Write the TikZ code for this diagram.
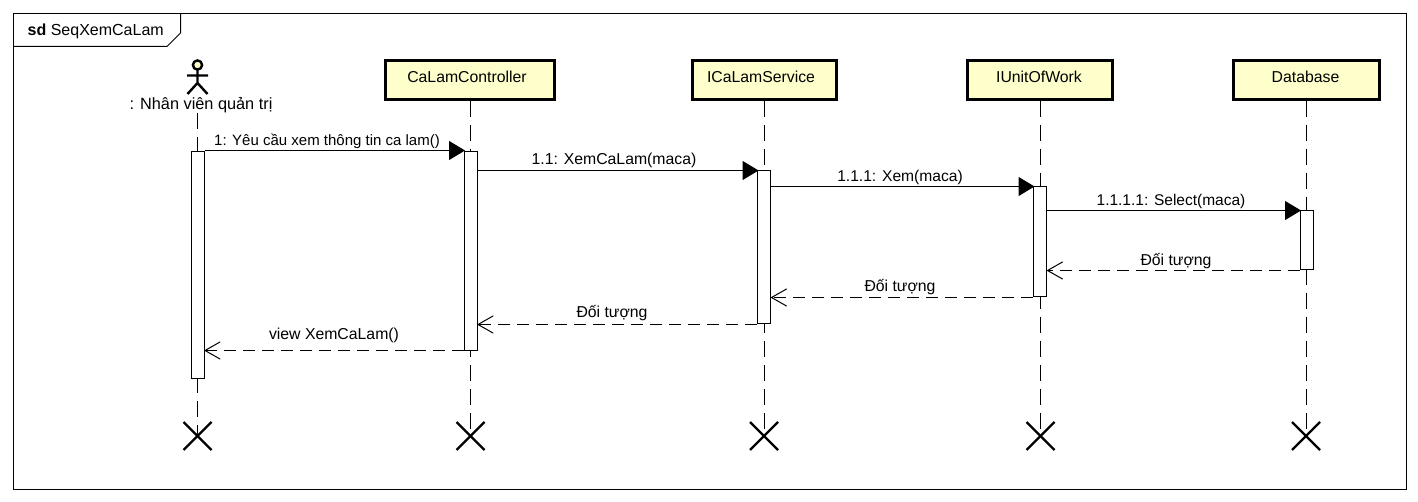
\documentclass[tikz,border=0pt]{standalone}
\usepackage{fontspec}
\setmainfont{Liberation Sans}
\usetikzlibrary{arrows.meta}
\definecolor{headfill}{HTML}{FFFFCC}
\tikzset{
  x=1pt,y=-1pt,
  head/.style={draw=black,line width=3pt,fill=headfill,minimum height=39pt,inner sep=0pt,text height=12pt,text depth=8pt,font=\fontsize{15.8}{17}\selectfont},
  act/.style={draw=black,line width=1pt,fill=white,minimum width=13pt,inner sep=0pt},
  life/.style={draw=black,line width=1pt,dash pattern=on 16pt off 8pt},
  msg/.style={draw=black,line width=1pt,shorten >=-1.5pt,-{Triangle[length=16pt,width=19pt,fill=black]}},
  ret/.style={draw=black,line width=1pt,dash pattern=on 12pt off 7pt,-{Straight Barb[length=15pt,width=17pt,line width=1pt,round]}},
  lbl/.style={font=\fontsize{15.8}{17}\selectfont,inner sep=0pt,anchor=base},
  kill/.style={draw=black,line width=2.4pt},
  frame/.style={draw=black,line width=1pt}
}
\newcommand{\actbox}[4]{\node[act,minimum height=#4pt] (#1) at (#2,#3+#4/2) {};}
\begin{document}
\begin{tikzpicture}
\useasboundingbox (0,0) rectangle (1418,502);
\fill[white] (0,0) rectangle (1418,502);
\draw[frame] (13.5,13.5) rectangle (1406.5,489.5);
\draw[frame] (13.5,46.5) -- (167,46.5) -- (180.5,33) -- (180.5,13.5);
\node[lbl,anchor=base west,font=\fontsize{16}{18}\selectfont] (title) at (27.5,36) {\textbf{sd} SeqXemCaLam};
% lifeline ends
\coordinate (ka) at (197.5,436); \coordinate (kb) at (470.5,436); \coordinate (kc) at (764,436);
\coordinate (kd) at (1040.5,436); \coordinate (ke) at (1306,436);
% lifelines
\coordinate (astart) at (197.5,113);
\draw[life] (astart) -- (ka);
\node[head,minimum width=169pt] (ctl) at (470,80.5) {CaLamController\kern6pt};
\node[head,minimum width=144pt] (svc) at (764,80.5) {ICaLamService\kern6pt};
\node[head,minimum width=145pt] (uow) at (1040,80.5) {IUnitOfWork\kern2pt};
\node[head,minimum width=146pt] (db) at (1306.5,80.5) {Database\kern2pt};
\draw[life] (470.5,101) -- (kb);
\draw[life] (764,101) -- (kc);
\draw[life] (1040.5,101) -- (kd);
\draw[life] (1306,101) -- (ke);
% actor
\draw[line width=2.4pt,fill=headfill] (197.5,65) circle (4.6pt);
\draw[line width=2.4pt] (197.5,70) -- (197.5,83) (187,75.5) -- (208,75.5) (187.5,94) -- (197.5,83) -- (207.5,94);
\node[lbl,font=\fontsize{16.3}{18}\selectfont] (actor) at (201,110) {: Nhân viên quản trị};
% kills
\foreach \k in {ka,kb,kc,kd,ke}{
  \draw[kill] ([shift={(-14,-14)}]\k) -- ([shift={(14,14)}]\k);
  \draw[kill] ([shift={(-14,14)}]\k) -- ([shift={(14,-14)}]\k);
}
% activations
\actbox{a1}{197.5}{151.5}{226.5}
\actbox{a2}{470.5}{151.5}{199}
\actbox{a3}{764}{170.5}{153.5}
\actbox{a4}{1040}{186.5}{110.5}
\actbox{a5}{1306.5}{210.5}{59.5}
% messages
\draw[msg] (a1.east |- 0,150.5) -- (a2.west |- 0,150.5);
\draw[msg] (a2.east |- 0,170.5) -- (a3.west |- 0,170.5);
\draw[msg] (a3.east |- 0,186.5) -- (a4.west |- 0,186.5);
\draw[msg] (a4.east |- 0,210.5) -- (a5.west |- 0,210.5);
\draw[ret] (a5.west |- 0,270.5) -- (a4.east |- 0,270.5);
\draw[ret] (a4.west |- 0,297.5) -- (a3.east |- 0,297.5);
\draw[ret] (a3.west |- 0,324.5) -- (a2.east |- 0,324.5);
\draw[ret] (a2.west |- 0,350.5) -- (a1.east |- 0,350.5);
\node[lbl,font=\fontsize{15}{17}\selectfont] (m1) at (327,146) {1: Yêu cầu xem thông tin ca lam()};
\node[lbl] (m2) at (614,165) {1.1: XemCaLam(maca)};
\node[lbl,font=\fontsize{15.6}{17}\selectfont] (m3) at (900,182) {1.1.1: Xem(maca)};
\node[lbl,font=\fontsize{15.5}{17}\selectfont] (m4) at (1171,206) {1.1.1.1: Select(maca)};
\node[lbl] (m5) at (1176,266) {Đối tượng};
\node[lbl] (m6) at (900,292) {Đối tượng};
\node[lbl] (m7) at (612,318) {Đối tượng};
\node[lbl] (m8) at (334,339) {view XemCaLam()};
\end{tikzpicture}
\end{document}
